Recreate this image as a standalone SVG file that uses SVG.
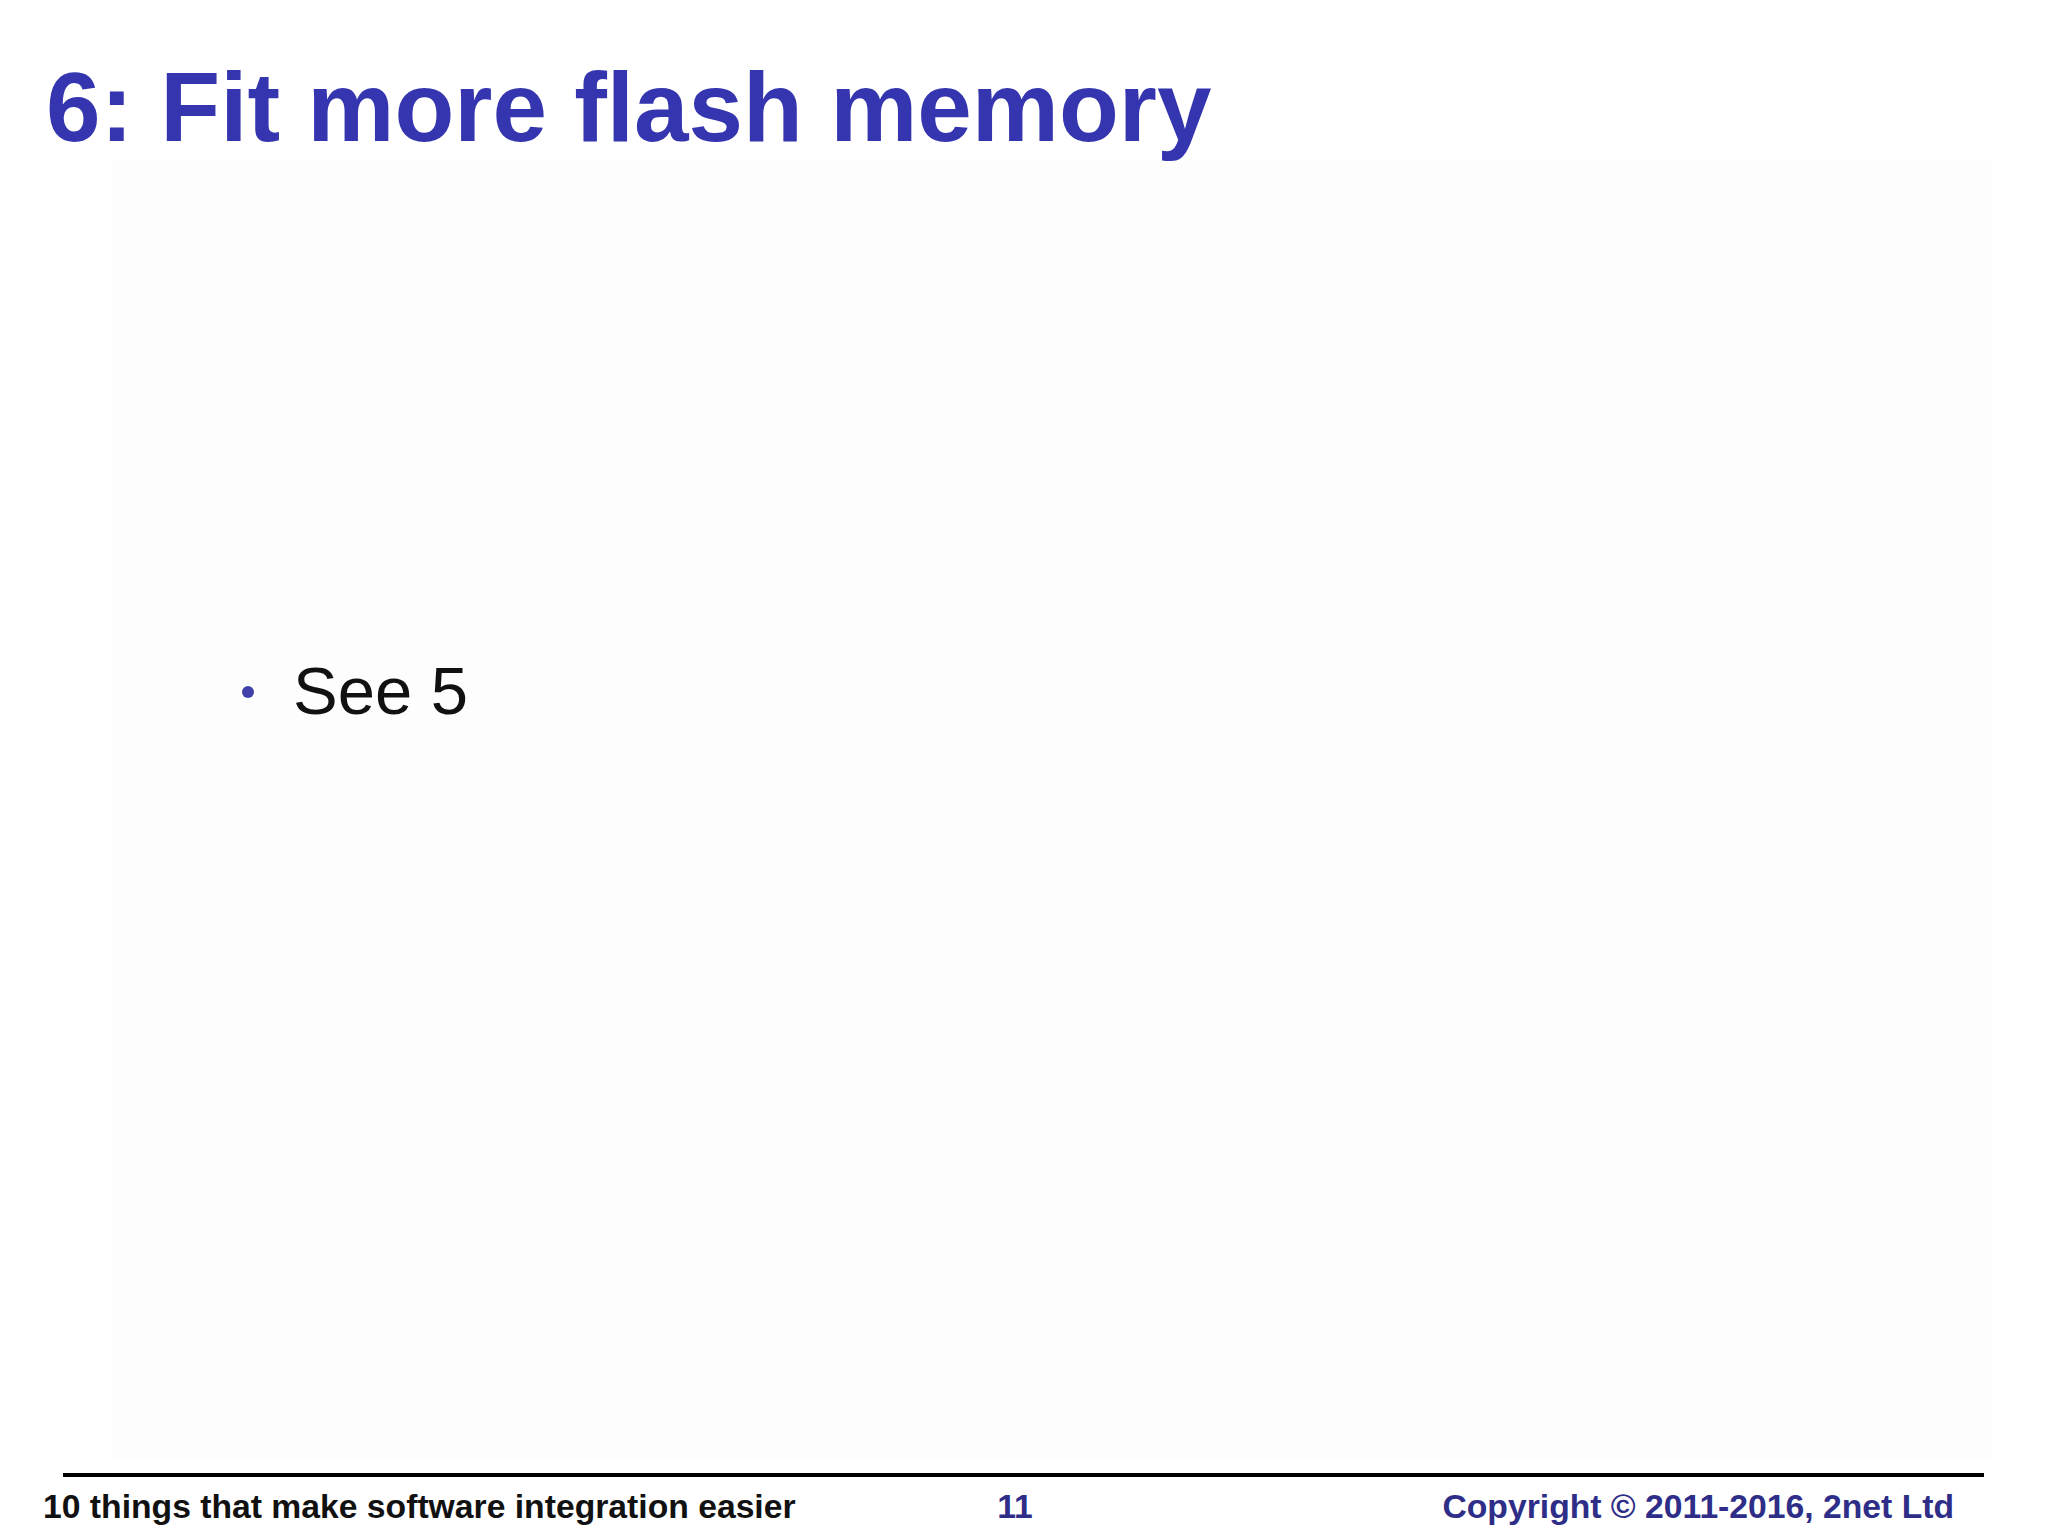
<svg xmlns="http://www.w3.org/2000/svg" width="2048" height="1536" viewBox="0 0 2048 1536">
<style>
text{font-family:"Liberation Sans",Arial,sans-serif}
.t{font-weight:bold;font-size:98px;fill:#3535b0}
.f{font-weight:bold;font-size:33.7px}
</style>
<rect width="2048" height="1536" fill="#ffffff"/>
<rect x="112" y="160" width="1880" height="1300" fill="#fdfdfd"/>
<text class="t" x="46" y="141">6: Fit more flash memory</text>
<g id="bullet">
<circle cx="248" cy="692" r="6" fill="#4040a8"/>
<text x="293" y="714" font-size="67" fill="#111">See 5</text>
</g>
<line x1="63" y1="1475" x2="1984" y2="1475" stroke="#000" stroke-width="4"/>
<text class="f" x="43" y="1518" fill="#111">10 things that make software integration easier</text>
<text class="f" x="1015" y="1518" text-anchor="middle" fill="#2e2e88">11</text>
<text class="f" x="1954" y="1518" text-anchor="end" fill="#2e2e88">Copyright © 2011-2016, 2net Ltd</text>
</svg>
